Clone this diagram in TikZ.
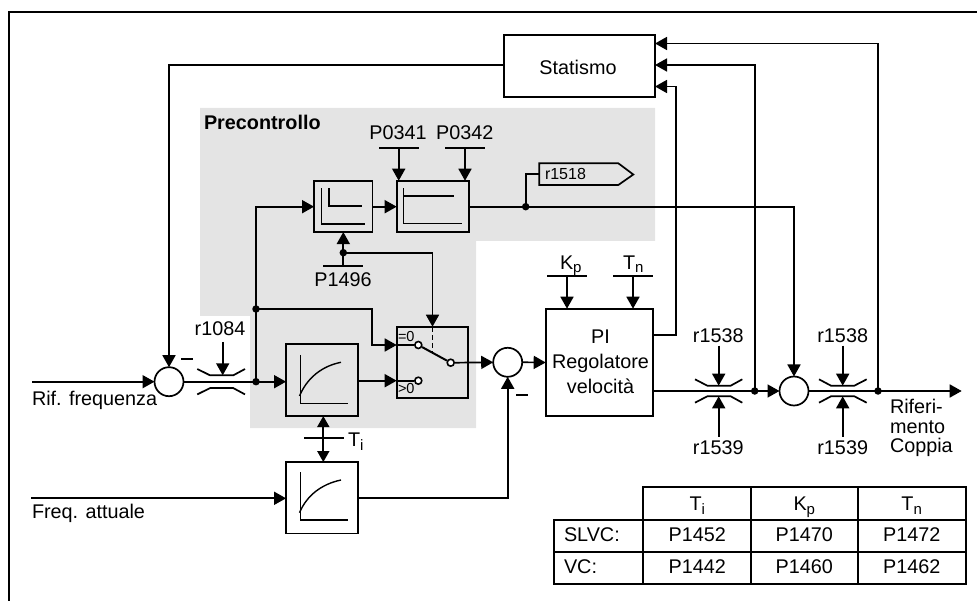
\documentclass[tikz,border=0pt]{standalone}
\usepackage{fontspec}
\setmainfont{Liberation Sans}
\usetikzlibrary{arrows.meta}
\definecolor{panel}{HTML}{E4E4E4}
\newcommand{\lowtxt}[1]{\raisebox{-3.5pt}{\fontsize{15}{15}\selectfont #1}}
\tikzset{
  ln/.style={draw=black,line width=1.7pt},
  arr/.style={ln,-{Triangle[length=12pt,width=13pt]}},
  darr/.style={ln,{Triangle[length=11pt,width=12pt]}-{Triangle[length=11pt,width=12pt]}},
  blk/.style={draw=black,line width=1.7pt,rectangle,inner sep=0pt,outer sep=0pt},
  sumj/.style={draw=black,line width=1.7pt,fill=white,circle,inner sep=0pt,outer sep=0pt,minimum size=29pt},
  dotn/.style={fill=black,circle,inner sep=0pt,minimum size=7.5pt},
  cont/.style={draw=black,line width=1.6pt,fill=white,circle,inner sep=0pt,minimum size=7pt},
  txt/.style={inner sep=0pt,outer sep=0pt,anchor=base,font=\fontsize{19.8}{19.8}\selectfont},
  txtl/.style={txt,anchor=base west},
  small/.style={inner sep=0pt,outer sep=0pt,anchor=base west,font=\fontsize{16}{16}\selectfont},
  tiny/.style={inner sep=0pt,outer sep=0pt,anchor=base west,font=\fontsize{14.5}{14.5}\selectfont},
  thick1/.style={draw=black,line width=2.2pt},
}
\begin{document}
\begin{tikzpicture}[x=1pt,y=-1pt]
\path[use as bounding box] (0,0) rectangle (977,601);
% panel
\fill[panel] (200,108)--(655,108)--(655,241)--(476,241)--(476,428)--(250,428)--(250,316)--(200,316)--cycle;
% frame
\draw[thick1] (9,601)--(9,12)--(977,12);

% blocks
\node[blk,minimum width=151pt,minimum height=62pt] (stat) at (579.5,66) {};
\node[txt] (stattxt) at (578,75) {Statismo};
\node[blk,minimum width=58.3pt,minimum height=51.3pt] (b1) at (343.2,206.4) {};
\node[blk,minimum width=72pt,minimum height=51.3pt] (b2) at (432.7,206.4) {};
\node[blk,minimum width=71.7pt,minimum height=71.7pt] (ra) at (321.9,380.2) {};
\node[blk,minimum width=71.7pt,minimum height=71.3pt] (rb) at (321.9,497.7) {};
\node[blk,minimum width=71.6pt,minimum height=71.6pt] (sw) at (432.5,362.5) {};
\node[blk,minimum width=107.6pt,minimum height=107.6pt] (pi) at (599.5,362.5) {};

% block glyphs
\draw[ln,line width=1.4pt] (321.7,188.3)--(321.7,224)--(365,224);
\draw[ln,line width=1.4pt] (329,188.3)--(329,206)--(361.7,206);
\draw[ln,line width=1.4pt] (403.7,188.3)--(403.7,223.3)--(461.7,223.3);
\draw[ln,line width=1.4pt] (403.7,196)--(454.3,196);
\draw[ln,line width=1.4pt] (300.7,355)--(300.7,403.3)--(347.7,403.3);
\draw[ln,line width=1.4pt] (299.5,396) .. controls (307,378) and (322,366) .. (341,362.3);
\draw[ln,line width=1.4pt] (300.7,472.3)--(300.7,520)--(347.7,520);
\draw[ln,line width=1.4pt] (299.5,512.7) .. controls (307,495) and (322,484) .. (341,480);

% sums
\node[sumj] (s1) at (169,381.7) {};
\node[sumj] (s2) at (507.7,362.3) {};
\node[sumj] (s3) at (794,391) {};

% named points
\coordinate (in1) at (32,381.7);
\coordinate (in2) at (31,498.3);
\node[dotn] (d1) at (256,381.7) {};
\node[dotn] (d2) at (256,309) {};
\node[dotn] (d3) at (525.7,206.7) {};
\node[dotn] (d4) at (343.3,252.7) {};
\node[dotn] (d5) at (754.7,391) {};
\node[dotn] (d6) at (878,391) {};

% main connectors
\draw[arr] (in1)--(s1.west);
\draw[ln] (s1.east)--(d1.center);
\draw[arr] (d1.center)--(ra.west |- d1);
\draw[arr] (in2)--(rb.west |- in2);
\draw[arr] (rb.east |- in2)-|(s2.south);
\draw[arr] (stat.west |- 0,65) -| (s1.north);
\draw[arr] (d1.center)--(256,206.7)--(b1.west |- 0,206.7);
\draw[arr] (b1.east |- 0,206.7)--(b2.west |- 0,206.7);
\draw[ln] (b2.east |- 0,206.7)--(d3.center);
\draw[arr] (d3.center)-|(s3.north);
\draw[arr] (d2.center)-|(371.7,345)--(sw.west |- 0,345);
\draw[arr] (ra.east |- 0,380.7)--(sw.west |- 0,380.7);

% Ti
\coordinate (tibar1) at (304,437.7);
\coordinate (tibar2) at (344,437.7);
\draw[ln] (tibar1)--(tibar2);
\draw[darr] (ra.south -| 323.3,0)--(rb.north -| 323.3,0);
\node[txtl] (ti) at (348,446.7) {T\lowtxt{i}};

% P1496
\coordinate (b3a) at (323.3,265.7);
\coordinate (b3b) at (362.7,265.7);
\draw[ln] (b3a)--(b3b);
\draw[arr] (343.3,265.7)--(b1.south -| 343.3,0);
\draw[arr] (d4.center)-|(sw.north -| 432.5,0);
\node[txt] (p1496) at (343,286.7) {P1496};

% switch
\node[cont] (c0) at (418.3,345) {};
\node[cont] (c1) at (418.3,380.7) {};
\node[cont] (cc) at (450.7,362.7) {};
\draw[ln] (sw.west |- 0,345)--(c0.west);
\draw[ln] (sw.west |- 0,380.7)--(c1.west);
\draw[ln,line width=2pt] (c0)--(cc);
\draw[ln,dash pattern=on 5pt off 3pt] (432.5,327)--(432.5,353);
\draw[arr] (cc.east)--(s2.west);
\node[tiny] (eq0) at (398,341.7) {=0};
\node[tiny] (gt0) at (398,394) {>0};
\draw[arr] (s2.east)--(pi.west);

% P0341, P0342
\draw[ln] (379,147.7)--(419,147.7);
\draw[ln] (445,147.7)--(485,147.7);
\draw[arr] (398.7,147.7)--(b2.north -| 398.7,0);
\draw[arr] (465,147.7)--(b2.north -| 465,0);
\node[txt] (p341) at (398,140) {P0341};
\node[txt] (p342) at (464.7,140) {P0342};

% r1518
\coordinate (flag) at (539.3,174.3);
\draw[ln] (539.3,163.3)--(618.3,163.3)--(633.3,174.5)--(618.3,185)--(539.3,185)--cycle;
\draw[ln] (d3.center)|-(flag);
\node[small] (r1518) at (545,179.3) {r1518};
\node[txtl,font=\bfseries\fontsize{19.8}{19.8}\selectfont] (prec) at (204,130) {Precontrollo};

% Kp Tn
\draw[ln] (547,276)--(587,276);
\draw[ln] (613,276)--(653,276);
\draw[arr] (567,276)--(pi.north -| 567,0);
\draw[arr] (633,276)--(pi.north -| 633,0);
\node[txtl] (kp) at (560,269.3) {K\lowtxt{p}};
\node[txtl] (tn) at (623,269.3) {T\lowtxt{n}};

% PI text
\node[txt] (pit1) at (600.5,343.3) {PI};
\node[txt] (pit2) at (600.5,368.7) {Regolatore};
\node[txt] (pit3) at (600.5,393.3) {velocità};

% PI outputs, feedback
\draw[arr] (pi.east |- 0,335)-|(676,86.5)--(stat.east |- 0,86.5);
\draw[ln] (pi.east |- 0,391)--(d5.center);
\draw[arr] (d5.center)--(s3.west);
\draw[arr] (d5.center)--(754.7,65)--(stat.east |- 0,65);
\coordinate (outp) at (961.7,391);
\draw[arr] (s3.east)--(outp);
\draw[arr] (d6.center)--(878,43.5)--(stat.east |- 0,43.5);

% limiters
\foreach \xa/\xb/\xc/\xd/\ym/\yo/\yi in {197.3/210/233.3/245/381.7/12.7/6.4,695/707.3/730.7/742.3/391/11.7/5.3,819/831/854.3/866.7/391/11.7/5.3}{
  \draw[ln] (\xa,\ym-\yo)--(\xb,\ym-\yi)--(\xc,\ym-\yi)--(\xd,\ym-\yo);
  \draw[ln] (\xa,\ym+\yo)--(\xb,\ym+\yi)--(\xc,\ym+\yi)--(\xd,\ym+\yo);
}
\draw[arr] (222.7,342)--(222.7,375.3);
\node[txt] (r1084) at (220,335.7) {r1084};
\draw[arr] (718.7,345.7)--(718.7,385.7);
\draw[arr] (718.7,436.7)--(718.7,396.3);
\draw[arr] (842.7,345.7)--(842.7,385.7);
\draw[arr] (842.7,436.7)--(842.7,396.3);
\node[txt] (a38) at (718.3,342.7) {r1538};
\node[txt] (a39) at (718.3,454.3) {r1539};
\node[txt] (b38) at (842.7,342.7) {r1538};
\node[txt] (b39) at (842.7,454.3) {r1539};

% minus signs
\draw[ln] (181,359)--(193,359);
\draw[ln] (516,394.7)--(527.7,394.7);

% text labels
\node[txtl] (rif) at (32,405.7) {Rif. frequenza};
\node[txtl] (frq) at (32,518.7) {Freq. attuale};
\node[txtl] (o1) at (890,413.3) {Riferi-};
\node[txtl] (o2) at (890,433.3) {mento};
\node[txtl] (o3) at (890,452.7) {Coppia};

% table
\draw[ln] (643.3,519.7)--(643.3,487.3)--(965.7,487.3)--(965.7,584)--(554,584)--(554,519.7)--(965.7,519.7);
\draw[ln] (554,551.7)--(965.7,551.7);
\draw[ln] (643.3,487.3)--(643.3,584);
\draw[ln] (750.7,487.3)--(750.7,584);
\draw[ln] (858,487.3)--(858,584);
\node[txt] (h1) at (697.3,510.7) {T\lowtxt{i}};
\node[txt] (h2) at (804.3,510.7) {K\lowtxt{p}};
\node[txt] (h3) at (911.7,510.7) {T\lowtxt{n}};
\node[txtl] (r1) at (564,541.7) {SLVC:};
\node[txt] (r11) at (697.3,541.7) {P1452};
\node[txt] (r12) at (804.3,541.7) {P1470};
\node[txt] (r13) at (911.7,541.7) {P1472};
\node[txtl] (r2) at (564,573.3) {VC:};
\node[txt] (r21) at (697.3,573.3) {P1442};
\node[txt] (r22) at (804.3,573.3) {P1460};
\node[txt] (r23) at (911.7,573.3) {P1462};
\end{tikzpicture}
\end{document}
